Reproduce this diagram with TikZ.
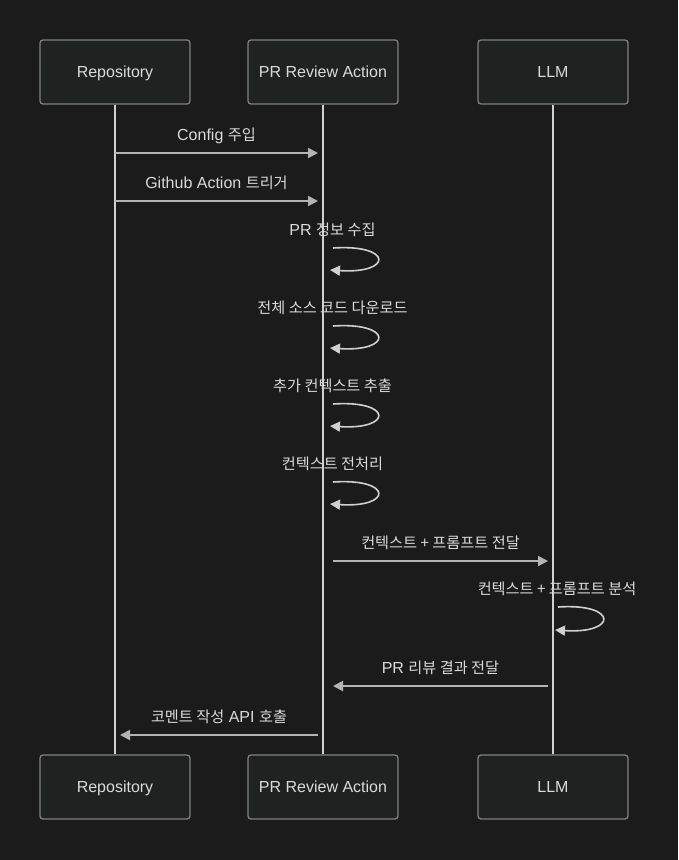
\documentclass[tikz,border=0pt]{standalone}
\usepackage{fontspec}
\setmainfont{Liberation Sans}
\newfontfamily\krfont[Scale=0.95]{Noto Sans CJK KR}
\newcommand{\kor}[1]{{\krfont #1}}
\usetikzlibrary{arrows.meta}
\definecolor{bg}{HTML}{1B1B1B}
\definecolor{boxfill}{HTML}{202222}
\definecolor{boxline}{HTML}{808080}
\definecolor{txt}{HTML}{DADADA}
\definecolor{lifec}{HTML}{D0D0D0}
\definecolor{msgc}{HTML}{B4B4B4}
\begin{document}
\begin{tikzpicture}[x=1pt,y=-1pt,
  actor/.style={draw=boxline, fill=boxfill, line width=1.3pt, rounded corners=3pt,
    minimum width=150pt, minimum height=64pt, text=txt, font=\fontsize{16}{19}\selectfont,
    text height=11.5pt, text depth=0pt, inner sep=0pt},
  life/.style={draw=lifec, line width=2pt},
  msg/.style={draw=msgc, line width=2pt, -{Triangle[length=10pt,width=10pt]}},
  selfmsg/.style={draw=lifec, line width=1.6pt, -{Triangle[length=10pt,width=10pt]}},
  lbl/.style={text=txt, font=\fontsize{16}{19}\selectfont, anchor=base, inner sep=0pt}
]
\fill[bg] (0,0) rectangle (678,860);
\useasboundingbox (0,0) rectangle (678,860);

% actors
\node[actor] (r1) at (115,72) {Repository};
\node[actor] (p1) at (323,72) {PR Review Action};
\node[actor] (l1) at (553,72) {LLM};
\node[actor] (r2) at (115,787) {Repository};
\node[actor] (p2) at (323,787) {PR Review Action};
\node[actor] (l2) at (553,787) {LLM};

% lifelines
\draw[life] (r1.south) -- (r2.north);
\draw[life] (p1.south) -- (p2.north);
\draw[life] (l1.south) -- (l2.north);

% message 1
\coordinate (m1a) at (115,153); \coordinate (m1b) at (318,153);
\draw[msg] (m1a) -- (m1b);
\node[lbl] (t1) at (216.5,140.5) {Config \kor{주입}};
% message 2
\coordinate (m2a) at (115,201); \coordinate (m2b) at (318,201);
\draw[msg] (m2a) -- (m2b);
\node[lbl] (t2) at (216.5,188.5) {Github Action \kor{트리거}};

% self loops on PR Review Action
\foreach \y/\t in {248/{PR \kor{정보 수집}}, 326/{\kor{전체 소스 코드 다운로드}}, 404/{\kor{추가 컨텍스트 추출}}, 482/{\kor{컨텍스트 전처리}}}{
  \coordinate (sa) at (333,\y);
  \coordinate (sb) at (330,\y+22);
  \draw[selfmsg] (sa) .. controls (393,\y-4) and (393,\y+26) .. (sb);
  \node[lbl] at (332.5,\y-12.5) {\t};
}

% message 7
\coordinate (m7a) at (333,561); \coordinate (m7b) at (548,561);
\draw[msg] (m7a) -- (m7b);
\node[lbl] (t7) at (440.5,548.5) {\kor{컨텍스트 + 프롬프트 전달}};

% self loop on LLM
\coordinate (la) at (558,607); \coordinate (lb) at (555,630);
\draw[selfmsg] (la) .. controls (618,603) and (618,634) .. (lb);
\node[lbl] (t8) at (557,594.5) {\kor{컨텍스트 + 프롬프트 분석}};

% message 9
\coordinate (m9a) at (548,686); \coordinate (m9b) at (333,686);
\draw[msg] (m9a) -- (m9b);
\node[lbl] (t9) at (440.5,673.5) {PR \kor{리뷰 결과 전달}};

% message 10
\coordinate (m10a) at (318,735); \coordinate (m10b) at (120,735);
\draw[msg] (m10a) -- (m10b);
\node[lbl] (t10) at (219,722.5) {\kor{코멘트 작성} API \kor{호출}};
\end{tikzpicture}
\end{document}
